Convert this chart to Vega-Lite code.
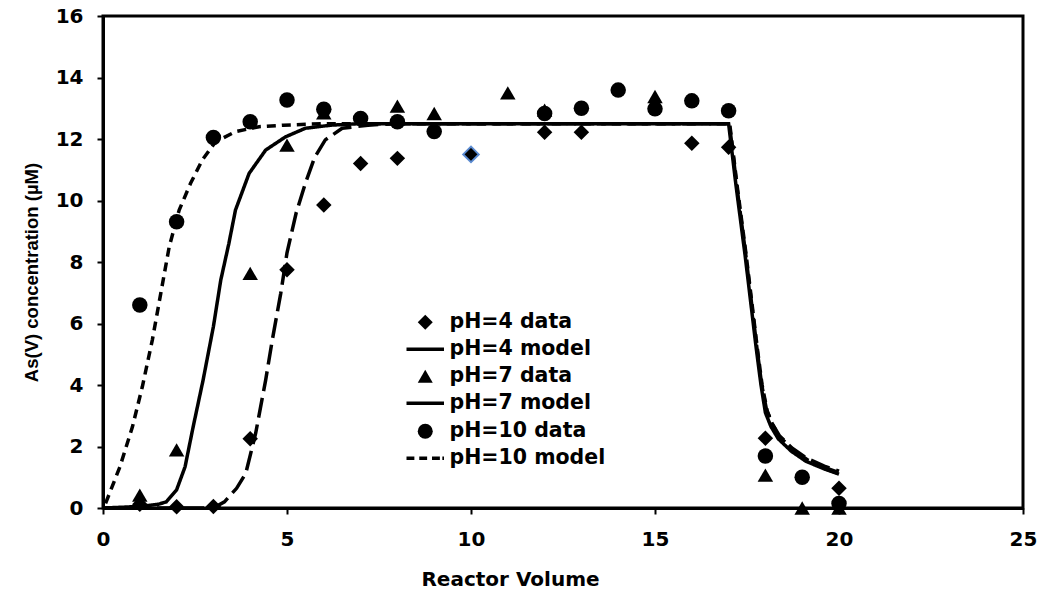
{
  "$schema": "https://vega.github.io/schema/vega-lite/v6.json",
  "width": 920,
  "height": 492,
  "autosize": {"type": "none"},
  "padding": {"left": 103, "top": 16, "right": 20, "bottom": 86},
  "background": "white",
  "config": {"view": {"stroke": "black", "strokeWidth": 3}, "font": "DejaVu Sans"},
  "datasets": {
    "models": [
      {"series": "pH=4 model", "x": 0, "y": 0},
      {"series": "pH=4 model", "x": 3.0, "y": 0.0},
      {"series": "pH=4 model", "x": 3.3, "y": 0.2},
      {"series": "pH=4 model", "x": 3.63, "y": 0.64},
      {"series": "pH=4 model", "x": 3.88, "y": 1.13},
      {"series": "pH=4 model", "x": 4.15, "y": 2.44},
      {"series": "pH=4 model", "x": 4.42, "y": 4.16},
      {"series": "pH=4 model", "x": 4.6, "y": 5.46},
      {"series": "pH=4 model", "x": 4.83, "y": 6.98},
      {"series": "pH=4 model", "x": 5.0, "y": 8.3},
      {"series": "pH=4 model", "x": 5.25, "y": 9.6},
      {"series": "pH=4 model", "x": 5.5, "y": 10.56},
      {"series": "pH=4 model", "x": 5.75, "y": 11.4},
      {"series": "pH=4 model", "x": 6.04, "y": 11.97},
      {"series": "pH=4 model", "x": 6.5, "y": 12.35},
      {"series": "pH=4 model", "x": 7.2, "y": 12.45},
      {"series": "pH=4 model", "x": 8, "y": 12.5},
      {"series": "pH=4 model", "x": 17.02, "y": 12.5},
      {"series": "pH=4 model", "x": 17.22, "y": 10.5},
      {"series": "pH=4 model", "x": 17.47, "y": 8.2},
      {"series": "pH=4 model", "x": 17.62, "y": 6.7},
      {"series": "pH=4 model", "x": 17.77, "y": 5.2},
      {"series": "pH=4 model", "x": 17.9, "y": 4.0},
      {"series": "pH=4 model", "x": 18.03, "y": 3.2},
      {"series": "pH=4 model", "x": 18.18, "y": 2.75},
      {"series": "pH=4 model", "x": 18.38, "y": 2.35},
      {"series": "pH=4 model", "x": 18.72, "y": 1.95},
      {"series": "pH=4 model", "x": 19.12, "y": 1.62},
      {"series": "pH=4 model", "x": 19.6, "y": 1.36},
      {"series": "pH=4 model", "x": 20.0, "y": 1.2},
      {"series": "pH=7 model", "x": 0, "y": 0},
      {"series": "pH=7 model", "x": 1.0, "y": 0.05},
      {"series": "pH=7 model", "x": 1.5, "y": 0.12},
      {"series": "pH=7 model", "x": 1.72, "y": 0.2},
      {"series": "pH=7 model", "x": 2.0, "y": 0.59},
      {"series": "pH=7 model", "x": 2.23, "y": 1.34},
      {"series": "pH=7 model", "x": 2.45, "y": 2.64},
      {"series": "pH=7 model", "x": 2.72, "y": 4.16},
      {"series": "pH=7 model", "x": 3.0, "y": 5.9},
      {"series": "pH=7 model", "x": 3.2, "y": 7.41},
      {"series": "pH=7 model", "x": 3.42, "y": 8.6},
      {"series": "pH=7 model", "x": 3.6, "y": 9.69},
      {"series": "pH=7 model", "x": 3.97, "y": 10.88},
      {"series": "pH=7 model", "x": 4.42, "y": 11.64},
      {"series": "pH=7 model", "x": 4.96, "y": 12.07},
      {"series": "pH=7 model", "x": 5.5, "y": 12.35},
      {"series": "pH=7 model", "x": 6.2, "y": 12.45},
      {"series": "pH=7 model", "x": 7, "y": 12.5},
      {"series": "pH=7 model", "x": 17.0, "y": 12.5},
      {"series": "pH=7 model", "x": 17.2, "y": 10.5},
      {"series": "pH=7 model", "x": 17.45, "y": 8.2},
      {"series": "pH=7 model", "x": 17.6, "y": 6.7},
      {"series": "pH=7 model", "x": 17.75, "y": 5.2},
      {"series": "pH=7 model", "x": 17.88, "y": 4.0},
      {"series": "pH=7 model", "x": 18.0, "y": 3.1},
      {"series": "pH=7 model", "x": 18.15, "y": 2.65},
      {"series": "pH=7 model", "x": 18.35, "y": 2.25},
      {"series": "pH=7 model", "x": 18.7, "y": 1.85},
      {"series": "pH=7 model", "x": 19.1, "y": 1.52},
      {"series": "pH=7 model", "x": 19.6, "y": 1.27},
      {"series": "pH=7 model", "x": 20.0, "y": 1.1},
      {"series": "pH=10 model", "x": 0.07, "y": 0.15},
      {"series": "pH=10 model", "x": 0.46, "y": 1.34},
      {"series": "pH=10 model", "x": 0.8, "y": 2.64},
      {"series": "pH=10 model", "x": 1.07, "y": 3.95},
      {"series": "pH=10 model", "x": 1.34, "y": 5.46},
      {"series": "pH=10 model", "x": 1.57, "y": 6.98},
      {"series": "pH=10 model", "x": 1.8, "y": 8.5},
      {"series": "pH=10 model", "x": 2.07, "y": 9.69},
      {"series": "pH=10 model", "x": 2.38, "y": 10.56},
      {"series": "pH=10 model", "x": 2.7, "y": 11.32},
      {"series": "pH=10 model", "x": 3.06, "y": 11.91},
      {"series": "pH=10 model", "x": 3.6, "y": 12.24},
      {"series": "pH=10 model", "x": 4.24, "y": 12.4},
      {"series": "pH=10 model", "x": 4.9, "y": 12.45},
      {"series": "pH=10 model", "x": 6, "y": 12.5},
      {"series": "pH=10 model", "x": 17.03, "y": 12.5},
      {"series": "pH=10 model", "x": 17.23, "y": 10.5},
      {"series": "pH=10 model", "x": 17.48, "y": 8.2},
      {"series": "pH=10 model", "x": 17.63, "y": 6.7},
      {"series": "pH=10 model", "x": 17.78, "y": 5.2},
      {"series": "pH=10 model", "x": 17.91, "y": 4.0},
      {"series": "pH=10 model", "x": 18.05, "y": 3.15},
      {"series": "pH=10 model", "x": 18.2, "y": 2.7},
      {"series": "pH=10 model", "x": 18.4, "y": 2.3},
      {"series": "pH=10 model", "x": 18.74, "y": 1.9},
      {"series": "pH=10 model", "x": 19.14, "y": 1.57},
      {"series": "pH=10 model", "x": 19.62, "y": 1.31},
      {"series": "pH=10 model", "x": 20.0, "y": 1.15}
    ],
    "points": [
      {"series": "pH=4 data", "x": 1, "y": 0.12},
      {"series": "pH=4 data", "x": 2, "y": 0.04},
      {"series": "pH=4 data", "x": 3, "y": 0.05},
      {"series": "pH=4 data", "x": 4, "y": 2.25},
      {"series": "pH=4 data", "x": 5, "y": 7.75},
      {"series": "pH=4 data", "x": 6, "y": 9.85},
      {"series": "pH=4 data", "x": 7, "y": 11.2},
      {"series": "pH=4 data", "x": 8, "y": 11.37},
      {"series": "pH=4 data", "x": 10, "y": 11.5},
      {"series": "pH=4 data", "x": 12, "y": 12.22},
      {"series": "pH=4 data", "x": 13, "y": 12.22},
      {"series": "pH=4 data", "x": 16, "y": 11.86},
      {"series": "pH=4 data", "x": 17, "y": 11.73},
      {"series": "pH=4 data", "x": 18, "y": 2.27},
      {"series": "pH=4 data", "x": 20, "y": 0.64},
      {"series": "pH=7 data", "x": 1, "y": 0.42},
      {"series": "pH=7 data", "x": 2, "y": 1.89},
      {"series": "pH=7 data", "x": 4, "y": 7.63},
      {"series": "pH=7 data", "x": 5, "y": 11.8},
      {"series": "pH=7 data", "x": 6, "y": 12.85},
      {"series": "pH=7 data", "x": 8, "y": 13.07},
      {"series": "pH=7 data", "x": 9, "y": 12.83},
      {"series": "pH=7 data", "x": 11, "y": 13.5},
      {"series": "pH=7 data", "x": 12, "y": 12.94},
      {"series": "pH=7 data", "x": 15, "y": 13.38},
      {"series": "pH=7 data", "x": 18, "y": 1.07},
      {"series": "pH=7 data", "x": 19, "y": 0},
      {"series": "pH=7 data", "x": 20, "y": 0},
      {"series": "pH=10 data", "x": 1, "y": 6.6},
      {"series": "pH=10 data", "x": 2, "y": 9.31},
      {"series": "pH=10 data", "x": 3, "y": 12.05},
      {"series": "pH=10 data", "x": 4, "y": 12.56},
      {"series": "pH=10 data", "x": 5, "y": 13.27},
      {"series": "pH=10 data", "x": 6, "y": 12.97},
      {"series": "pH=10 data", "x": 7, "y": 12.67},
      {"series": "pH=10 data", "x": 8, "y": 12.56},
      {"series": "pH=10 data", "x": 9, "y": 12.24},
      {"series": "pH=10 data", "x": 12, "y": 12.83},
      {"series": "pH=10 data", "x": 13, "y": 13.0},
      {"series": "pH=10 data", "x": 14, "y": 13.59},
      {"series": "pH=10 data", "x": 15, "y": 12.98},
      {"series": "pH=10 data", "x": 16, "y": 13.24},
      {"series": "pH=10 data", "x": 17, "y": 12.92},
      {"series": "pH=10 data", "x": 18, "y": 1.69},
      {"series": "pH=10 data", "x": 19, "y": 1.0},
      {"series": "pH=10 data", "x": 20, "y": 0.15}
    ]
  },
  "encoding": {
    "x": {
      "field": "x", "type": "quantitative",
      "scale": {"domain": [0, 25], "nice": false, "zero": false},
      "axis": {
        "title": "Reactor Volume", "values": [0, 5, 10, 15, 20, 25], "grid": false,
        "domainColor": "black", "domainWidth": 3, "tickColor": "black", "tickWidth": 2, "tickSize": 6,
        "labelFont": "DejaVu Sans", "labelFontSize": 20, "labelFontWeight": "bold", "labelColor": "black",
        "labelPadding": 15, "labelFlush": false, "labelOverlap": false, "labelBound": false,
        "titleFont": "DejaVu Sans", "titleFontSize": 20, "titleFontWeight": "bold", "titleColor": "black",
        "titlePadding": 20, "titleX": 407
      }
    },
    "y": {
      "field": "y", "type": "quantitative",
      "scale": {"domain": [0, 16], "nice": false, "zero": false},
      "axis": {
        "title": "As(V) concentration (µM)", "values": [0, 2, 4, 6, 8, 10, 12, 14, 16], "grid": false,
        "domainColor": "black", "domainWidth": 3, "tickColor": "black", "tickWidth": 2, "tickSize": 6,
        "labelFont": "DejaVu Sans", "labelFontSize": 20, "labelFontWeight": "bold", "labelColor": "black",
        "labelPadding": 14, "labelFlush": false, "labelOverlap": false, "labelBound": false,
        "titleFont": "Liberation Sans", "titleFontSize": 18.5, "titleFontWeight": "bold", "titleColor": "black",
        "titlePadding": 14, "titleY": 256
      }
    }
  },
  "layer": [
    {
      "data": {"name": "models"},
      "mark": {"type": "line", "strokeWidth": 3.5, "color": "black", "strokeCap": "butt", "clip": false},
      "encoding": {
        "strokeDash": {
          "field": "series", "type": "nominal",
          "scale": {"domain": ["pH=4 model", "pH=7 model", "pH=10 model"], "range": [[20, 7], [1, 0], [9, 6]]},
          "legend": null
        }
      }
    },
    {
      "data": {"name": "points"},
      "mark": {"type": "point", "filled": true, "color": "black", "size": 240, "opacity": 1},
      "encoding": {
        "stroke": {"condition": {"test": "datum.x === 10", "value": "#5a8ad0"}, "value": "transparent"},
        "shape": {
          "field": "series", "type": "nominal",
          "scale": {
            "domain": ["pH=4 data", "pH=4 model", "pH=7 data", "pH=7 model", "pH=10 data", "pH=10 model"],
            "range": [
              "diamond",
              "M-2.5,-0.23H2.5V0.23H-2.5Z",
              "triangle-up",
              "M-2.5,-0.23H2.5V0.23H-2.5Z",
              "circle",
              "M-2.5,-0.23H-1.45V0.23H-2.5ZM-0.8,-0.23H0.25V0.23H-0.8ZM0.9,-0.23H1.95V0.23H0.9ZM2.28,-0.23H2.5V0.23H2.28Z"
            ]
          },
          "legend": {
            "orient": "none", "legendX": 312, "legendY": 296, "title": null,
            "labelFont": "DejaVu Sans", "labelFontSize": 20.5, "labelFontWeight": "bold", "labelColor": "black",
            "symbolSize": 225, "labelOffset": 14, "rowPadding": 6, "padding": 0,
            "encode": {
              "symbols": {
                "update": {
                  "fill": {"value": "black"},
                  "opacity": {"value": 1}
                }
              }
            }
          }
        }
      }
    }
  ]
}
